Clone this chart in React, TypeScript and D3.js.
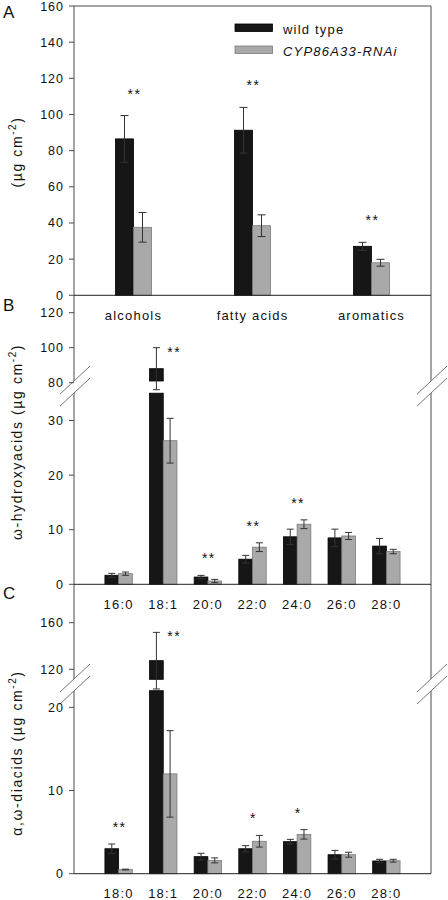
import React from "react";
import * as d3 from "d3";

const catsA = ["alcohols", "fatty acids", "aromatics"];
const wtA = [86.5, 91.3, 27.1];
const wtSeA = [12.9, 12.6, 2.2];
const rnaiA = [37.6, 38.5, 18.0];
const rnaiSeA = [8.2, 6.0, 1.9];
const sigA = ["**", "**", "**"];

const catsB = ["16:0", "18:1", "20:0", "22:0", "24:0", "26:0", "28:0"];
const wtB = [1.65, 88, 1.33, 4.6, 8.7, 8.5, 7.0];
const wtSeB = [0.35, 12, 0.3, 0.7, 1.4, 1.6, 1.4];
const rnaiB = [1.95, 26.3, 0.6, 6.8, 11.0, 8.85, 6.0];
const rnaiSeB = [0.3, 4.1, 0.3, 0.8, 0.8, 0.65, 0.4];
const sigB = ["", "**", "**", "**", "**", "", ""];

const catsC = ["18:0", "18:1", "20:0", "22:0", "24:0", "26:0", "28:0"];
const wtC = [3.0, 127.4, 2.05, 3.0, 3.85, 2.28, 1.53];
const wtSeC = [0.57, 24.3, 0.4, 0.37, 0.28, 0.52, 0.2];
const rnaiC = [0.5, 12.0, 1.6, 3.9, 4.73, 2.28, 1.56];
const rnaiSeC = [0.05, 5.2, 0.3, 0.7, 0.57, 0.3, 0.17];
const sigC = ["**", "**", "", "*", "*", "", ""];

const ticksA = [0, 20, 40, 60, 80, 100, 120, 140, 160];
const ticksBLow = [0, 10, 20, 30];
const ticksBHigh = [80, 100, 120];
const ticksCLow = [0, 10, 20];
const ticksCHigh = [120, 160];

const FONT = "Liberation Sans, Arial, Helvetica, sans-serif";
const BLACK = "#161616";
const GRAY = "#a9a9a9";
const GRAY_STROKE = "#7a7a7a";
const LINE = "#4a4a4a";
const ERR = "#333";

const X0 = 74;
const X1 = 431;
const TOP = 6;

type Panel = {
  cats: string[];
  wt: number[];
  wtSe: number[];
  rn: number[];
  rnSe: number[];
  sig: string[];
  lower: d3.ScaleLinear<number, number>;
  lowerMax: number;
  upper?: d3.ScaleLinear<number, number>;
  gapTop?: number;
  ticksLow: number[];
  ticksHigh: number[];
  band: d3.ScaleBand<string>;
  barW: number;
  capW: number;
  starUp: number;
};

const panelA: Panel = {
  cats: catsA, wt: wtA, wtSe: wtSeA, rn: rnaiA, rnSe: rnaiSeA, sig: sigA,
  lower: d3.scaleLinear().domain([0, 160]).range([295.3, TOP]),
  lowerMax: 160,
  ticksLow: ticksA, ticksHigh: [],
  band: d3.scaleBand<string>().domain(catsA).range([X0, X1]).paddingInner(0).paddingOuter(0),
  barW: 18, capW: 8, starUp: 25,
};

const panelB: Panel = {
  cats: catsB, wt: wtB, wtSe: wtSeB, rn: rnaiB, rnSe: rnaiSeB, sig: sigB,
  lower: d3.scaleLinear().domain([0, 35]).range([584.3, 393.2]),
  lowerMax: 35,
  upper: d3.scaleLinear().domain([80, 120]).range([382.7, 312.7]),
  gapTop: 381,
  ticksLow: ticksBLow, ticksHigh: ticksBHigh,
  band: d3.scaleBand<string>().domain(catsB).range([X0, X1]).paddingInner(0).paddingOuter(0.5),
  barW: 13.7, capW: 7, starUp: 20,
};

const panelC: Panel = {
  cats: catsC, wt: wtC, wtSe: wtSeC, rn: rnaiC, rnSe: rnaiSeC, sig: sigC,
  lower: d3.scaleLinear().domain([0, 22]).range([873.7, 690.7]),
  lowerMax: 22,
  upper: d3.scaleLinear().domain([120, 160]).range([669.3, 622.7]),
  gapTop: 679.3,
  ticksLow: ticksCLow, ticksHigh: ticksCHigh,
  band: d3.scaleBand<string>().domain(catsC).range([X0, X1]).paddingInner(0).paddingOuter(0.5),
  barW: 13.7, capW: 7, starUp: 20,
};

function isBroken(p: Panel, v: number) {
  return !!p.upper && v > p.lowerMax;
}
function yOf(p: Panel, v: number) {
  return isBroken(p, v) ? p.upper!(v) : p.lower(v);
}

function Bar({ p, x, v, se, fill, stroke }: { p: Panel; x: number; v: number; se: number; fill: string; stroke: string }) {
  const base = p.lower(0);
  const w = p.barW;
  const broken = isBroken(p, v);
  const errScale = broken ? p.upper! : p.lower;
  const yTop = errScale(v + se);
  const yBot = errScale(v - se);
  const cx = x + w / 2;
  return (
    <g>
      {broken ? (
        <>
          <rect x={x} y={p.lower(p.lowerMax)} width={w} height={base - p.lower(p.lowerMax)} fill={fill} stroke={stroke} strokeWidth={0.8} />
          <rect x={x} y={p.upper!(v)} width={w} height={p.gapTop! - p.upper!(v)} fill={fill} stroke={stroke} strokeWidth={0.8} />
        </>
      ) : (
        <rect x={x} y={p.lower(v)} width={w} height={base - p.lower(v)} fill={fill} stroke={stroke} strokeWidth={0.8} />
      )}
      <line x1={cx} x2={cx} y1={yTop} y2={yBot} stroke={ERR} strokeWidth={1} />
      <line x1={cx - p.capW / 2} x2={cx + p.capW / 2} y1={yTop} y2={yTop} stroke={ERR} strokeWidth={1} />
      <line x1={cx - p.capW / 2} x2={cx + p.capW / 2} y1={yBot} y2={yBot} stroke={ERR} strokeWidth={1} />
    </g>
  );
}

function PanelBars({ p }: { p: Panel }) {
  return (
    <g>
      {p.cats.map((c, i) => {
        const cx = p.band(c)! + p.band.bandwidth() / 2;
        const wTop = yOf(p, p.wt[i] + p.wtSe[i]);
        const rTop = yOf(p, p.rn[i] + p.rnSe[i]);
        const broken = isBroken(p, p.wt[i]);
        let sx = cx + 1;
        let sy = Math.min(wTop, rTop) - p.starUp;
        if (broken) {
          sx = cx + 11;
          sy = wTop + 1;
        }
        return (
          <g key={c}>
            <Bar p={p} x={cx - p.barW} v={p.wt[i]} se={p.wtSe[i]} fill={BLACK} stroke="#000" />
            <Bar p={p} x={cx} v={p.rn[i]} se={p.rnSe[i]} fill={GRAY} stroke={GRAY_STROKE} />
            {p.sig[i] && (
              <text x={sx} y={sy + 8} textAnchor="middle" fontSize={14} letterSpacing={1.5} fontFamily={FONT} fill="#111">
                {p.sig[i]}
              </text>
            )}
          </g>
        );
      })}
    </g>
  );
}

function Ticks({ p }: { p: Panel }) {
  const items = [
    ...p.ticksLow.map((t) => ({ t, y: p.lower(t) })),
    ...p.ticksHigh.map((t) => ({ t, y: p.upper!(t) })),
  ];
  return (
    <g>
      {items.map(({ t, y }) => (
        <g key={`${t}-${y}`}>
          <line x1={X0 - 5} x2={X0} y1={y} y2={y} stroke={LINE} strokeWidth={1} />
          <text x={X0 - 10} y={y + 4.5} textAnchor="end" fontSize={12.5} letterSpacing={1} fontFamily={FONT} fill="#111">
            {t}
          </text>
        </g>
      ))}
    </g>
  );
}

function BreakMarks({ p }: { p: Panel }) {
  if (!p.upper) return null;
  const yMid = (p.gapTop! + p.lower(p.lowerMax)) / 2;
  return (
    <g>
      {[X0, X1].map((x) => (
        <g key={x}>
          <polygon
            points={`${x - 14},${yMid - 6 + 13} ${x + 16},${yMid - 6 - 15} ${x + 16},${yMid + 6 - 15} ${x - 14},${yMid + 6 + 13}`}
            fill="#fff"
          />
          {[-6, 6].map((o) => (
            <line key={o} x1={x - 14} y1={yMid + o + 13} x2={x + 16} y2={yMid + o - 15} stroke="#666" strokeWidth={0.9} />
          ))}
        </g>
      ))}
    </g>
  );
}

function CatLabels({ p, y }: { p: Panel; y: number }) {
  return (
    <g>
      {p.cats.map((c) => (
        <text key={c} x={p.band(c)! + p.band.bandwidth() / 2} y={y} textAnchor="middle" fontSize={13} letterSpacing={1.2} fontFamily={FONT} fill="#111">
          {c}
        </text>
      ))}
    </g>
  );
}

function YLabel({ x, y, prefix }: { x: number; y: number; prefix: string }) {
  return (
    <text transform={`translate(${x},${y}) rotate(-90)`} textAnchor="middle" fontSize={14} letterSpacing={1.6} fontFamily={FONT} fill="#111">
      {prefix}(µg cm
      <tspan fontSize={10} dy={-6}>-2</tspan>
      <tspan dy={6}>)</tspan>
    </text>
  );
}

export default function App() {
  const bottom = panelC.lower(0);
  return (
    <svg width={448} height={900} style={{ position: "absolute", left: 0, top: 0 }}>
      <rect x={0} y={0} width={448} height={900} fill="#fff" />
      {/* frame */}
      <line x1={X0} x2={X1} y1={TOP} y2={TOP} stroke={LINE} strokeWidth={1} />
      <line x1={X0} x2={X0} y1={TOP} y2={bottom} stroke={LINE} strokeWidth={1} />
      <line x1={X1} x2={X1} y1={TOP} y2={bottom} stroke={LINE} strokeWidth={1} />

      <PanelBars p={panelA} />
      <PanelBars p={panelB} />
      <PanelBars p={panelC} />

      <BreakMarks p={panelB} />
      <BreakMarks p={panelC} />

      {[panelA, panelB, panelC].map((p, i) => (
        <line key={i} x1={X0} x2={X1} y1={p.lower(0)} y2={p.lower(0)} stroke="#222" strokeWidth={1} />
      ))}

      <Ticks p={panelA} />
      <Ticks p={panelB} />
      <Ticks p={panelC} />

      <CatLabels p={panelA} y={319.5} />
      <CatLabels p={panelB} y={608.7} />
      <CatLabels p={panelC} y={898} />

      {/* legend */}
      <rect x={235} y={24} width={37.5} height={7.5} fill={BLACK} stroke="#000" strokeWidth={0.8} />
      <text x={283} y={34} fontSize={13} letterSpacing={1.2} fontFamily={FONT} fill="#111">wild type</text>
      <rect x={235} y={46} width={37.5} height={7.5} fill={GRAY} stroke={GRAY_STROKE} strokeWidth={0.8} />
      <text x={283} y={56} fontSize={13} letterSpacing={1.2} fontStyle="italic" fontFamily={FONT} fill="#111">CYP86A33-RNAi</text>

      {/* y labels */}
      <YLabel x={22} y={152} prefix="" />
      <YLabel x={22} y={442} prefix="ω-hydroxyacids " />
      <YLabel x={22} y={753} prefix="α,ω-diacids " />

      {/* panel letters */}
      <text x={3} y={18} fontSize={17} fontFamily={FONT} fill="#111">A</text>
      <text x={3} y={311} fontSize={17} fontFamily={FONT} fill="#111">B</text>
      <text x={3} y={599} fontSize={17} fontFamily={FONT} fill="#111">C</text>
    </svg>
  );
}
